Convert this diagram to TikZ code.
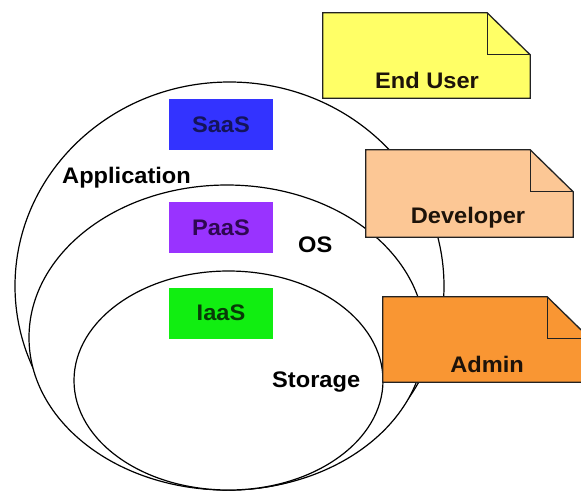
\documentclass[tikz,border=0pt]{standalone}
\usepackage{fontspec}
\setmainfont{Liberation Sans}
\newfontfamily\diagfont[FakeStretch=1.05]{Liberation Sans}
\definecolor{saasfill}{HTML}{3333FF}
\definecolor{paasfill}{HTML}{9933FF}
\definecolor{iaasfill}{HTML}{11EE11}
\definecolor{saastext}{HTML}{14145A}
\definecolor{paastext}{HTML}{2E0852}
\definecolor{iaastext}{HTML}{083A08}
\definecolor{userfill}{HTML}{FFFF66}
\definecolor{devfill}{HTML}{FCC795}
\definecolor{adminfill}{HTML}{F99633}
\definecolor{edge}{HTML}{222222}
\tikzset{
  ring/.style={draw=black, line width=1.2pt, fill=white},
  layerbox/.style={minimum width=104pt, minimum height=51pt, inner sep=0pt,
    font=\diagfont\fontsize{22.5}{26}\selectfont\bfseries},
  lbl/.style={font=\diagfont\fontsize{22.5}{26}\selectfont\bfseries, inner sep=0pt, anchor=base west},
  noteframe/.style={minimum width=207pt, minimum height=85pt, inner sep=0pt},
  noteline/.style={draw=edge, line width=1.3pt, line join=miter},
  notetext/.style={font=\diagfont\fontsize{22.5}{26}\selectfont\bfseries, inner sep=0pt, text=black!85!brown}
}
\newcommand{\dogear}[2]{%
  \draw[noteline, fill=#2] (#1.north west) -- ([xshift=-43pt]#1.north east)
     -- ([yshift=-42pt]#1.north east) -- (#1.south east) -- (#1.south west) -- cycle;
  \draw[noteline] ([xshift=-43pt]#1.north east) -- ([xshift=-43pt,yshift=-42pt]#1.north east)
     -- ([yshift=-42pt]#1.north east);}
\begin{document}
\begin{tikzpicture}[x=1pt,y=-1pt]
\useasboundingbox (0,0) rectangle (581,491);
% nested layers
\path[ring] (229.5,286) ellipse [x radius=214.5pt, y radius=204pt];
\path[ring] (227,337.5) ellipse [x radius=198pt, y radius=152.5pt];
\path[ring] (228.5,380.5) ellipse [x radius=154.5pt, y radius=109.5pt];
% service boxes
\node[layerbox, fill=saasfill, text=saastext] (saas) at (221,124.5) {SaaS};
\node[layerbox, fill=paasfill, text=paastext] (paas) at (221,227.5) {PaaS};
\node[layerbox, fill=iaasfill, text=iaastext] (iaas) at (221,313) {IaaS};
% layer labels
\node[lbl] (app) at (62,183) {Application};
\node[lbl] (os) at (298,252) {OS};
\node[lbl] (storage) at (272,387) {Storage};
% notes
\node[noteframe] (enduser) at (426.5,55.5) {};
\dogear{enduser}{userfill}
\node[notetext] (enduserlbl) at (427,80) {End User};
\node[noteframe, minimum height=87pt] (developer) at (469.5,193.5) {};
\dogear{developer}{devfill}
\node[notetext] (developerlbl) at (468,218) {Developer};
\node[noteframe] (admin) at (486.5,339.5) {};
\dogear{admin}{adminfill}
\node[notetext] (adminlbl) at (487,364) {Admin};
\end{tikzpicture}
\end{document}
